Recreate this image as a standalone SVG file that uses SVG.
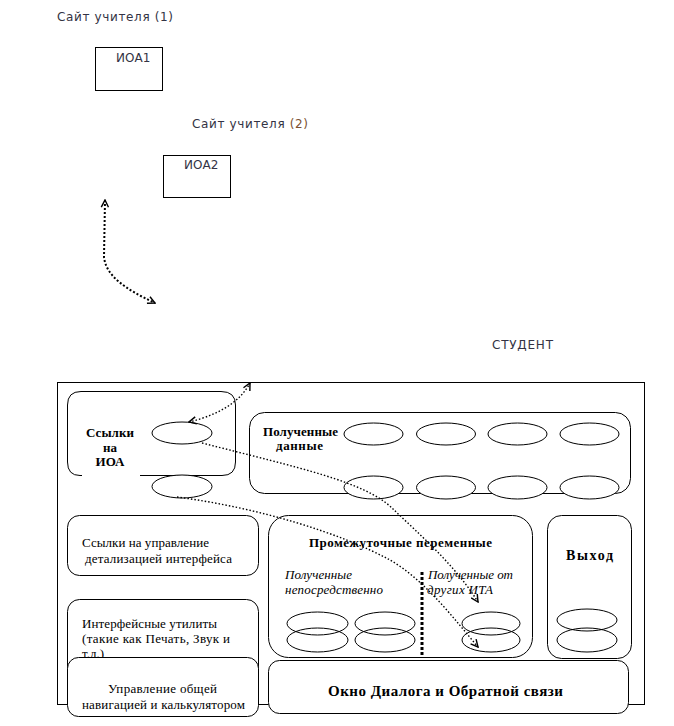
<svg xmlns="http://www.w3.org/2000/svg" width="674" height="726" viewBox="0 0 674 726">
<style>
.sans{font-family:"DejaVu Sans","Liberation Sans",sans-serif;font-size:12px;fill:#333344}
.ser{font-family:"Liberation Serif","Times New Roman",serif;font-size:13px;fill:#000}
.b{font-weight:bold}
.it{font-style:italic}
.box{fill:#fff;stroke:#000;stroke-width:1}
.nb{fill:none;stroke:#000;stroke-width:1}
.ell{fill:#fff;stroke:#000;stroke-width:1}
.ello{fill:none;stroke:#000;stroke-width:1}
.dot{fill:none;stroke:#000;stroke-width:1.4;stroke-dasharray:1.5 2}
.dot2{fill:none;stroke:#000;stroke-width:2;stroke-dasharray:2 2}
</style>
<defs>
<marker id="ah" viewBox="0 0 10 10" refX="9" refY="5" markerWidth="9" markerHeight="9" markerUnits="userSpaceOnUse" orient="auto-start-reverse">
<path d="M1,1 L9,5 L1,9" fill="none" stroke="#000" stroke-width="1.6"/>
</marker>
</defs>

<g id="site1">
<text class="sans" x="57" y="21" textLength="116" lengthAdjust="spacing">Сайт учителя (1)</text>
</g>
<g id="ioa1">
<rect class="nb" x="95.5" y="47.5" width="67" height="43"/>
<text class="sans" x="116" y="62">ИОА1</text>
</g>
<g id="site2">
<text class="sans" x="192" y="128" textLength="116" lengthAdjust="spacing">Сайт учителя <tspan fill="#7a5030">(2)</tspan></text>
</g>
<g id="ioa2">
<rect class="nb" x="163.5" y="155.5" width="67" height="42"/>
<text class="sans" x="184" y="169">ИОА2</text>
</g>
<g id="student">
<text class="sans" x="492" y="349" textLength="61" lengthAdjust="spacing">СТУДЕНТ</text>
</g>

<g id="frame">
<rect class="nb" x="57.5" y="382.5" width="587" height="322"/>
</g>

<g id="links-ioa">
<path class="box" d="M82,475.5 L80,475.5 Q67.5,475.5 67.5,462 L67.5,405 Q67.5,391.5 81,391.5 L221,391.5 Q235.5,391.5 235.5,405 L235.5,462 Q235.5,475.5 222,475.5 L140,475.5" />
<text class="ser b" x="86" y="437" textLength="48" lengthAdjust="spacing">Ссылки</text>
<text class="ser b" x="110" y="452" text-anchor="middle">на</text>
<text class="ser b" x="110" y="466" text-anchor="middle">ИОА</text>
<ellipse class="ell" cx="182" cy="433" rx="30" ry="11"/>
<ellipse class="ell" cx="182" cy="486.5" rx="30" ry="11.5"/>
</g>

<g id="received-data">
<rect class="box" x="249.5" y="412.5" width="381" height="81" rx="15" ry="15"/>
<text class="ser b" x="263" y="436" textLength="75" lengthAdjust="spacing">Полученные</text>
<text class="ser b" x="276" y="450" textLength="47" lengthAdjust="spacing">данные</text>
<ellipse class="ell" cx="373.5" cy="434" rx="29.5" ry="11"/>
<ellipse class="ell" cx="446" cy="434" rx="29.5" ry="11"/>
<ellipse class="ell" cx="517.5" cy="434" rx="29.5" ry="11"/>
<ellipse class="ell" cx="589.5" cy="434" rx="29.5" ry="11"/>
<ellipse class="ell" cx="373.5" cy="487.5" rx="29.5" ry="11.5"/>
<ellipse class="ell" cx="446" cy="487.5" rx="29.5" ry="11.5"/>
<ellipse class="ell" cx="517.5" cy="487.5" rx="29.5" ry="11.5"/>
<ellipse class="ell" cx="589.5" cy="487.5" rx="29.5" ry="11.5"/>
</g>

<g id="detail-links">
<rect class="box" x="67.5" y="515.5" width="191" height="60" rx="12" ry="12"/>
<text class="ser" x="82" y="547" textLength="127" lengthAdjust="spacing">Ссылки на управление</text>
<text class="ser" x="85" y="563" textLength="147" lengthAdjust="spacing">детализацией интерфейса</text>
</g>

<g id="utilities">
<rect class="box" x="67.5" y="599.5" width="191" height="90" rx="12" ry="12"/>
<text class="ser" x="82" y="628" textLength="135" lengthAdjust="spacing">Интерфейсные утилиты</text>
<text class="ser" x="82" y="643" textLength="148" lengthAdjust="spacing">(такие как Печать, Звук и</text>
<text class="ser" x="82" y="658">т.д.)</text>
</g>

<g id="navigation">
<rect class="box" x="67.5" y="657.5" width="191" height="59" rx="11" ry="11"/>
<text class="ser" x="108" y="693" textLength="109" lengthAdjust="spacing">Управление общей</text>
<text class="ser" x="82" y="709" textLength="163" lengthAdjust="spacing">навигацией и калькулятором</text>
</g>

<g id="intermediate">
<rect class="box" x="268.5" y="515.5" width="264" height="142" rx="20" ry="20"/>
<text class="ser b" x="309" y="547" textLength="183" lengthAdjust="spacing">Промежуточные переменные</text>
<text class="ser it" x="285" y="579" textLength="67" lengthAdjust="spacing">Полученные</text>
<text class="ser it" x="285" y="594" textLength="98" lengthAdjust="spacing">непосредственно</text>
<text class="ser it" x="428" y="579" textLength="85" lengthAdjust="spacing">Полученные от</text>
<text class="ser it" x="427" y="594" textLength="66" lengthAdjust="spacing">других ИТА</text>
<line x1="422" y1="572" x2="422" y2="657" stroke="#000" stroke-width="3" stroke-dasharray="3 2"/>
<ellipse class="ello" cx="317.5" cy="623.5" rx="30.5" ry="11.5"/>
<ellipse class="ello" cx="317.5" cy="640" rx="30.5" ry="12"/>
<ellipse class="ello" cx="385" cy="623.5" rx="30" ry="11.5"/>
<ellipse class="ello" cx="385" cy="640" rx="30" ry="12"/>
<ellipse class="ello" cx="491" cy="623.5" rx="29" ry="11.5"/>
<ellipse class="ello" cx="491" cy="640" rx="29" ry="12"/>
</g>

<g id="exit">
<rect class="box" x="547.5" y="515.5" width="84" height="143" rx="14" ry="14"/>
<text class="ser b" x="566" y="560" textLength="47" lengthAdjust="spacing" style="font-size:14px">Выход</text>
<ellipse class="ello" cx="587" cy="620" rx="30" ry="11"/>
<ellipse class="ello" cx="587" cy="640" rx="30" ry="12"/>
</g>

<g id="dialog">
<rect class="box" x="268.5" y="660.5" width="360" height="53" rx="11" ry="11"/>
<text class="ser b" x="328" y="696" textLength="235" lengthAdjust="spacing" style="font-size:15px">Окно Диалога и Обратной связи</text>
</g>

<g id="connectors">
<path class="dot2" d="M105,200 L104,257 C106,276 125,289 155,303" marker-start="url(#ah)" marker-end="url(#ah)"/>
<path class="dot" d="M189,422 C210,417 238,406 250,383" marker-start="url(#ah)" marker-end="url(#ah)"/>
<path class="dot" d="M202,443 C300,468 365,482 392,508 C420,535 455,565 478,602" marker-end="url(#ah)"/>
<path class="dot" d="M177,497 C260,508 340,533 390,560 C425,580 455,620 478,647" marker-end="url(#ah)"/>
</g>
</svg>
